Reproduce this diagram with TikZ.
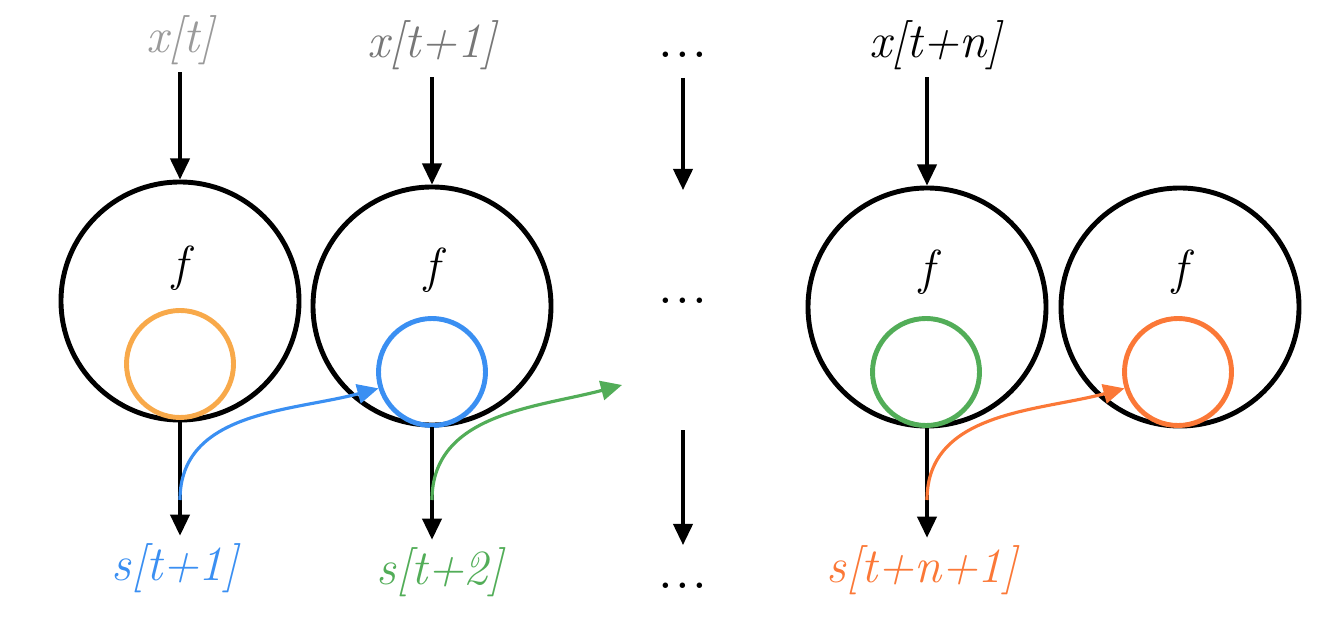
\documentclass[tikz,border=0pt]{standalone}
\usepackage{tikz}
\usetikzlibrary{arrows.meta}
\definecolor{grayA}{HTML}{9A9A9A}
\definecolor{grayB}{HTML}{777777}
\definecolor{orangeA}{HTML}{F8A94A}
\definecolor{blueA}{HTML}{3A8FF2}
\definecolor{greenA}{HTML}{52AD58}
\definecolor{orangeB}{HTML}{FB7837}
\tikzset{
  bigc/.style={circle, draw, line width=1.4pt, minimum size=2.38cm, inner sep=0pt},
  smallc/.style={circle, line width=1.4pt, minimum size=1.07cm, inner sep=0pt},
  lbl/.style={font=\fontsize{14}{16}\selectfont\itshape, inner sep=2pt},
  dotsl/.style={font=\fontsize{19}{20}\selectfont, inner sep=2pt},
  arr/.style={line width=0.9pt, -{Triangle[length=6pt,width=5.5pt]}},
}
\begin{document}
\begin{tikzpicture}
    \useasboundingbox (0,0) rectangle (13.37,-6.27);

    % Celulas
    \node[bigc] (f1) at (1.80,-3.01) {};
    \node[bigc] (f2) at (4.32,-3.06) {};
    \node[bigc] (f3) at (9.27,-3.07) {};
    \node[bigc] (f4) at (11.80,-3.07) {};
    \node[lbl] (l1) at (1.80,-2.68) {f};
    \node[lbl] (l2) at (4.32,-2.70) {f};
    \node[lbl] (l3) at (9.27,-2.72) {f};
    \node[lbl] (l4) at (11.80,-2.72) {f};

    % Estados
    \node[smallc, draw=orangeA] (s1) at (1.80,-3.64) {};
    \node[smallc, draw=blueA] (s2) at (4.32,-3.72) {};
    \node[smallc, draw=greenA] (s3) at (9.26,-3.72) {};
    \node[smallc, draw=orangeB] (s4) at (11.78,-3.72) {};

    % Entradas
    \node[lbl, text=grayA] (x1) at (1.80,-0.40) {x[t]};
    \node[lbl, text=grayB] (x2) at (4.32,-0.45) {x[t+1]};
    \node[lbl] (x3) at (9.35,-0.45) {x[t+n]};
    \draw[arr] (x1) -- (f1.north);
    \draw[arr] (x2) -- (f2.north);
    \draw[arr] (x3.south -| f3.north) -- (f3.north);

    % Saidas
    \node[lbl, text=blueA] (y1) at (1.75,-5.68) {s[t+1]};
    \node[lbl, text=greenA] (y2) at (4.40,-5.72) {s[t+2]};
    \node[lbl, text=orangeB] (y3) at (9.22,-5.70) {s[t+n+1]};
    \draw[arr] (f1.south) -- (f1.south |- y1.north);
    \draw[arr] (f2.south) -- (f2.south |- y2.north);
    \draw[arr] (f3.south) -- (f3.south |- y3.north);

    % Reticencias
    \node[dotsl] (d1) at (6.83,-0.55) {...};
    \node[dotsl] (d2) at (6.83,-3.01) {...};
    \node[dotsl] (d3) at (6.83,-5.86) {...};
    \coordinate (d1s) at (6.83,-0.78);
    \coordinate (d1e) at (6.83,-1.90);
    \coordinate (d3s) at (6.83,-4.30);
    \coordinate (d3e) at (6.83,-5.45);
    \draw[arr] (d1s) -- (d1e);
    \draw[arr] (d3s) -- (d3e);

    % Transferencia de estado
    \coordinate (c1) at (1.80,-5.00);
    \coordinate (c2) at (4.32,-5.00);
    \coordinate (c3) at (9.27,-5.00);
    \coordinate (g2e) at (6.22,-3.85);
    \draw[arr, blueA] (c1) to[out=90, in=195] (s2.197);
    \draw[arr, greenA] (c2) to[out=90, in=195] (g2e);
    \draw[arr, orangeB] (c3) to[out=90, in=195] (s4.197);
\end{tikzpicture}
\end{document}
